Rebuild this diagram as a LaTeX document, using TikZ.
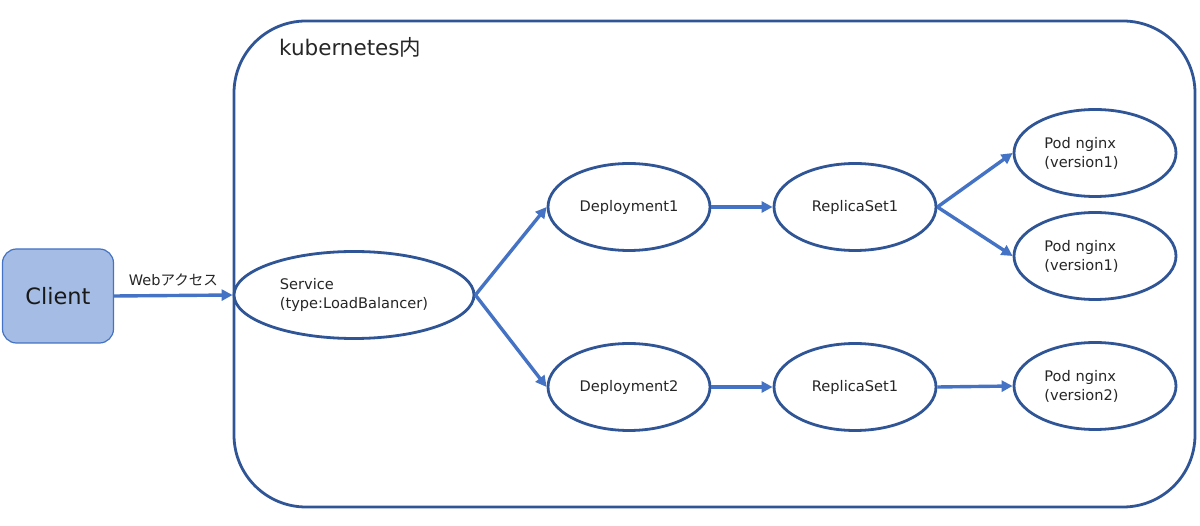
\documentclass[tikz,border=0pt]{standalone}
\usepackage{fontspec}
\setmainfont{DejaVu Sans}
\newfontfamily\jp{Noto Sans CJK JP}
\usetikzlibrary{shapes.geometric,arrows.meta}
\definecolor{edge}{HTML}{2F5597}
\definecolor{arr}{HTML}{4472C4}
\definecolor{clientfill}{HTML}{A5BCE4}
\begin{document}
\begin{tikzpicture}[x=1pt,y=-1pt,
  ell/.style={ellipse,draw=edge,line width=2.8pt,fill=white,minimum width=162pt,minimum height=87pt,inner sep=0pt,font=\fontsize{14.6}{19}\selectfont,align=left,text=black!85},
  conn/.style={draw=arr,line width=3.4pt,-{Triangle[length=11pt,width=11pt]}},
  lbl/.style={inner sep=0pt,text=black!85}]
\useasboundingbox (0,0) rectangle (1200,526);
\draw[edge,line width=2.8pt,rounded corners=72pt] (234,21) rectangle (1195,507);
\node[lbl,anchor=base west,font=\fontsize{21.5}{24}\selectfont] (title) at (279,56) {kubernetes{\jp 内}};
\node[draw=arr,line width=1.2pt,fill=clientfill,rounded corners=14pt,minimum width=111pt,minimum height=94pt,font=\fontsize{22.5}{26}\selectfont,text=black!90] (client) at (58,296) {Client};
\node[ell,minimum width=240pt] (svc) at (354,295) {Service\\(type:LoadBalancer)};
\node[ell] (dep1) at (629,207) {Deployment1};
\node[ell] (rs1) at (855,207) {ReplicaSet1};
\node[ell] (dep2) at (629,387) {Deployment2};
\node[ell] (rs2) at (855,387) {ReplicaSet1};
\node[ell] (pod1) at (1095,153) {\hspace*{-27pt}Pod nginx\\\hspace*{-27pt}(version1)};
\node[ell] (pod2) at (1095,256) {\hspace*{-27pt}Pod nginx\\\hspace*{-27pt}(version1)};
\node[ell] (pod3) at (1095,386) {\hspace*{-27pt}Pod nginx\\\hspace*{-27pt}(version2)};
\draw[conn] (client.east) -- (svc.west) node[midway,above=8pt,lbl,font=\fontsize{14.5}{16}\selectfont] (web) {Web{\jp アクセス}};
\draw[conn] (svc.east) -- (dep1.west);
\draw[conn] (svc.east) -- (dep2.west);
\draw[conn] (dep1.east) -- (rs1.west);
\draw[conn] (dep2.east) -- (rs2.west);
\draw[conn] (rs1.east) -- (pod1.west);
\draw[conn] (rs1.east) -- (pod2.west);
\draw[conn] (rs2.east) -- (pod3.west);
\end{tikzpicture}
\end{document}
